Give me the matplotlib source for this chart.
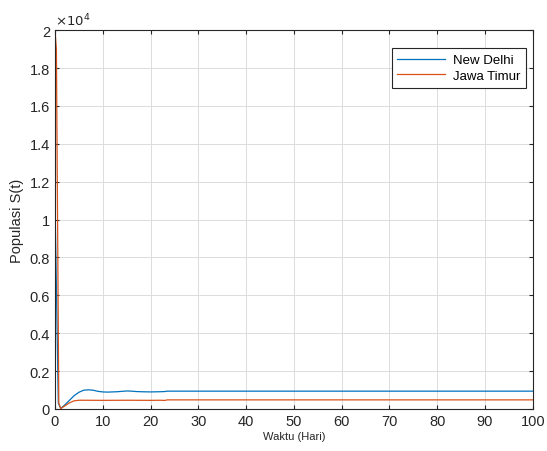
import matplotlib
matplotlib.use("Agg")
import matplotlib.pyplot as plt
from matplotlib.ticker import FuncFormatter, MultipleLocator

plt.rcParams["font.family"] = ["Liberation Sans", "DejaVu Sans"]

# New Delhi
t_delhi = [0, 0.7, 1.2, 2, 3, 4, 5, 6, 7, 8, 9, 10, 11, 12, 13,
           14, 15, 16, 17, 18, 19, 20, 21, 22, 23, 23.5, 100]
s_delhi = [11000, 300, 30, 200, 450, 700, 880, 990, 1010,
           990, 930, 900, 890, 900, 910, 930, 950, 940, 920, 910, 905, 900, 905,
           910, 920, 940, 940]

# Jawa Timur
t_jatim = [0, 0.3, 0.8, 1.2, 2, 3, 4, 5, 6, 10, 15, 20, 22, 23, 23.5, 100]
s_jatim = [20000, 19000, 300, 20, 150, 320, 430, 460, 460, 455, 460,
           455, 460, 450, 480, 480]

fig = plt.figure(figsize=(5.47, 4.52), dpi=100)
ax = fig.add_axes([0.1005, 0.093, 0.8735, 0.838])

ax.plot(t_delhi, s_delhi, color="#0072BD", lw=0.9, label="New Delhi")
ax.plot(t_jatim, s_jatim, color="#D95319", lw=0.9, label="Jawa Timur")

ax.set_xlim(0, 100)
ax.set_ylim(0, 20000)
ax.xaxis.set_major_locator(MultipleLocator(10))
ax.yaxis.set_major_locator(MultipleLocator(2000))
ax.yaxis.set_major_formatter(FuncFormatter(lambda v, p: f"{v / 1e4:g}"))
ax.grid(True, color="#dcdcdc", lw=0.7)
ax.set_axisbelow(True)
ax.tick_params(direction="in", length=3, labelsize=10.5, colors="#262626",
               top=True, right=True)
for s in ax.spines.values():
    s.set_color("#262626")
    s.set_linewidth(0.8)

ax.text(0.0, 1.005, r"$\times 10^4$", transform=ax.transAxes, fontsize=9.5,
        color="#262626", va="bottom", ha="left")
ax.set_ylabel("Populasi S(t)", fontsize=10.5, color="#262626")
ax.set_xlabel("Waktu (Hari)", fontsize=8, color="#262626", labelpad=2)

leg = ax.legend(loc="upper right", bbox_to_anchor=(1.0, 0.97), fontsize=9.5,
                fancybox=False, framealpha=1, edgecolor="#262626",
                handlelength=3.6, borderpad=0.45, labelspacing=0.25,
                handletextpad=0.6)
leg.get_frame().set_linewidth(0.8)

fig.savefig("out.png", dpi=100)
